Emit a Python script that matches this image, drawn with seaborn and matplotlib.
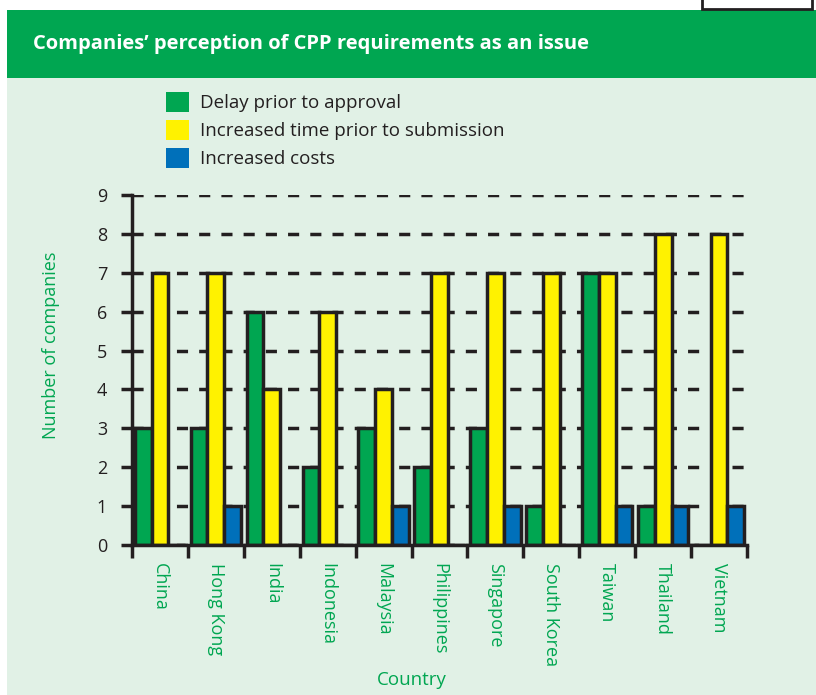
import matplotlib
matplotlib.use("Agg")
import matplotlib.pyplot as plt
from matplotlib.patches import Rectangle, Patch
import numpy as np
import pandas as pd
import seaborn as sns

countries = ["China", "Hong Kong", "India", "Indonesia", "Malaysia", "Philippines",
             "Singapore", "South Korea", "Taiwan", "Thailand", "Vietnam"]
delay = [3, 3, 6, 2, 3, 2, 3, 1, 7, 1, 0]
increased_time = [7, 7, 4, 6, 4, 7, 7, 7, 7, 8, 8]
increased_costs = [0, 1, 0, 0, 1, 0, 1, 0, 1, 1, 1]
series = ["Delay prior to approval", "Increased time prior to submission", "Increased costs"]

GREEN = "#00A651"
YELLOW = "#FFF200"
BLUE = "#0070BA"
BG = "#E1F1E6"
DARK = "#231F20"

df = pd.DataFrame({"Country": countries, series[0]: delay,
                   series[1]: increased_time, series[2]: increased_costs})
largo = df.melt(id_vars="Country", var_name="Issue", value_name="Companies")

sns.set_style("white")
plt.rcParams["font.family"] = ["Open Sans", "DejaVu Sans"]

W, H = 816, 695
fig = plt.figure(figsize=(W / 100, H / 100), dpi=100)
fig.patch.set_facecolor("white")

# fondo y cabecera
fig.patches.append(Rectangle((7 / W, 0), 1, 1 - 78 / H, transform=fig.transFigure,
                             facecolor=BG, edgecolor="none", zorder=-2))
fig.patches.append(Rectangle((7 / W, 1 - 78 / H), 1, 68 / H, transform=fig.transFigure,
                             facecolor=GREEN, edgecolor="none", zorder=-2))
fig.patches.append(Rectangle((702 / W, 1 - 9 / H), 110 / W, 20 / H, transform=fig.transFigure,
                             facecolor="white", edgecolor=DARK, linewidth=2, zorder=-1))
fig.text(33 / W, 1 - 44 / H, "Companies\u2019 perception of CPP requirements as an issue",
         color="white", fontsize=14.5, fontweight="bold", va="center", ha="left")

ax = fig.add_axes([132 / W, 1 - 545 / H, 615 / W, 350 / H])
ax.set_facecolor("none")
ax.set_zorder(2)

sns.barplot(data=largo, x="Country", y="Companies", hue="Issue", hue_order=series,
            palette=[GREEN, YELLOW, BLUE], width=0.9, saturation=1, ax=ax,
            edgecolor=DARK, linewidth=2.5, legend=False, zorder=3)

ax.set_xlim(-0.5, len(countries) - 0.5)
ax.set_ylim(0, 9)
ax.set_yticks(range(0, 10))
ax.yaxis.grid(True, linestyle=(0, (3.2, 3.2)), linewidth=2.5, color=DARK, zorder=1)
ax.set_axisbelow(True)

for s in ["top", "right"]:
    ax.spines[s].set_visible(False)
for s in ["left", "bottom"]:
    ax.spines[s].set_linewidth(2.5)
    ax.spines[s].set_color(DARK)
    ax.spines[s].set_zorder(5)

ax.tick_params(axis="y", length=8, width=2.5, color=DARK, labelsize=13,
               labelcolor=DARK, pad=10, direction="out", left=True)
ax.set_xticks(range(len(countries)))
ax.set_xticklabels(countries, rotation=270, color=GREEN, fontsize=13)
ax.tick_params(axis="x", length=0, pad=13)
ax.set_xticks(np.arange(-0.5, len(countries), 1), minor=True)
ax.tick_params(axis="x", which="minor", length=9, width=2.5, color=DARK, direction="out", bottom=True)

ax.set_ylabel("Number of companies", color=GREEN, fontsize=13)
ax.yaxis.set_label_coords(-0.117, 0.57)
ax.set_xlabel("Country", color=GREEN, fontsize=13.5)
ax.xaxis.set_label_coords(0.455, -0.36)

handles = [Patch(facecolor=c, edgecolor="none") for c in [GREEN, YELLOW, BLUE]]
fig.legend(handles, series, loc="upper left", bbox_to_anchor=(166 / W, 1 - 92 / H),
           frameon=False, fontsize=13.5, handlelength=1.2, handleheight=1.25,
           labelspacing=0.42, handletextpad=0.6, borderpad=0, borderaxespad=0,
           labelcolor=DARK)

fig.savefig("out.png", dpi=100)
